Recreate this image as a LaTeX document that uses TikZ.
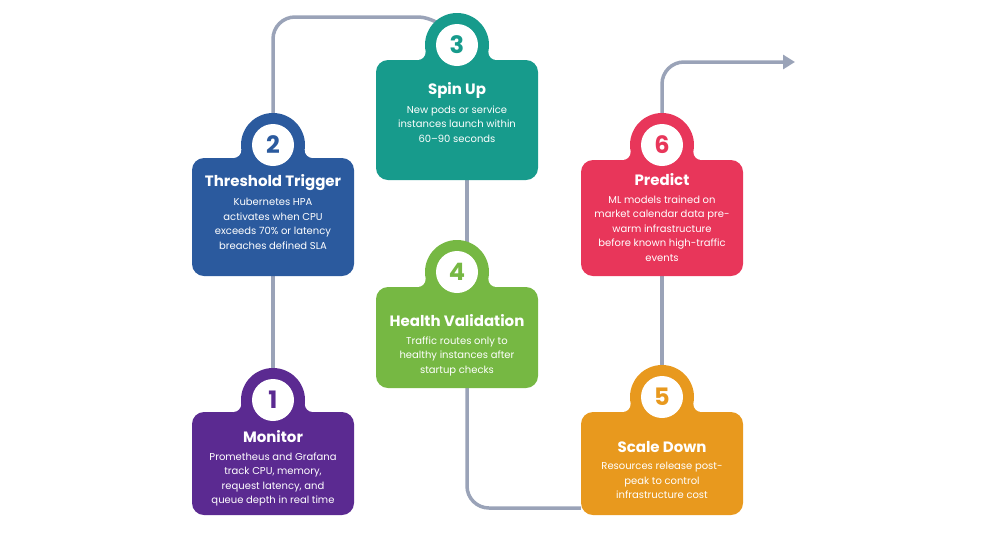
\documentclass[tikz,border=0pt]{standalone}
\usepackage{fontspec}
\setmainfont{Poppins}
\usetikzlibrary{backgrounds,arrows.meta}
\definecolor{cP}{HTML}{5B2A91}
\definecolor{cB}{HTML}{2B5A9E}
\definecolor{cT}{HTML}{179B8C}
\definecolor{cG}{HTML}{76B843}
\definecolor{cO}{HTML}{E8991E}
\definecolor{cR}{HTML}{E8365A}
\definecolor{conn}{HTML}{9AA3B8}
\tikzset{
 box/.style={rounded corners=12pt,minimum width=162pt,inner sep=0pt},
 bump/.style={circle,minimum size=64pt,inner sep=0pt},
 num/.style={circle,fill=white,minimum size=42pt,inner sep=0pt,font=\fontsize{24pt}{24pt}\selectfont\bfseries},
 ttl/.style={text=white,font=\fontsize{15pt}{16pt}\selectfont\bfseries},
 bdy/.style={text=white,align=center,font=\fontsize{10pt}{14.5pt}\selectfont},
 con/.style={draw=conn,line width=3.5pt,rounded corners=22pt},
}
\newcommand{\stepbox}[9]{%
 \node[box,fill=#5,minimum height=#3pt-#2pt] (b#6) at (#1,{(#2+#3)/2}) {};
 \pgfmathsetmacro{\fd}{sqrt((32+8)^2-(#2-#4-8)^2)}
 \fill[#5] (#1-\fd,#2-8) rectangle (#1+\fd,#2+1);
 \fill[white] (#1-\fd,#2-8) circle[radius=8] (#1+\fd,#2-8) circle[radius=8];
 \node[bump,fill=#5] (c#6) at (#1,#4) {};
 \node[num,text=#5] (n#6) at (#1,#4) {#6};
 \node[ttl] (t#6) at (#1,#9) {#7};
 \node[bdy,anchor=north] (d#6) at (#1,#9+12) {#8};
}
\begin{document}
\begin{tikzpicture}[x=1pt,y=-1pt]
\useasboundingbox (0,0) rectangle (985,550);
\stepbox{273}{412}{515}{400}{cP}{1}{Monitor}{Prometheus and Grafana\\track CPU, memory,\\request latency, and\\queue depth in real time}{437}
\stepbox{273}{158}{276}{145}{cB}{2}{Threshold Trigger}{Kubernetes HPA\\activates when CPU\\exceeds 70\% or latency\\breaches defined SLA}{183}
\stepbox{457}{60}{180}{45}{cT}{3}{Spin Up}{New pods or service\\instances launch within\\60–90 seconds}{90}
\stepbox{457}{287}{388}{272}{cG}{4}{Health Validation}{Traffic routes only to\\healthy instances after\\startup checks}{321}
\stepbox{662}{412}{515}{397}{cO}{5}{Scale Down}{Resources release post-\\peak to control\\infrastructure cost}{447}
\stepbox{662}{160}{276}{145}{cR}{6}{Predict}{ML models trained on\\market calendar data pre-\\warm infrastructure\\before known high-traffic\\events}{180}
\coordinate (end) at (795,62);
\begin{scope}[on background layer]
\draw[con] (b1.north) -- (b2.south);
\draw[con] (c2.center) |- (440,17) -- (c3.center);
\draw[con] (b3.south -| 467,0) -- (c4.center -| 467,0);
\draw[con] (b4.south -| 467,0) |- (b5.west |- 0,508);
\draw[con] (b5.north) -- (b6.south);
\draw[con,-{Triangle[length=12pt,width=14pt]}] (c6.center) |- (end);
\end{scope}
\end{tikzpicture}
\end{document}
